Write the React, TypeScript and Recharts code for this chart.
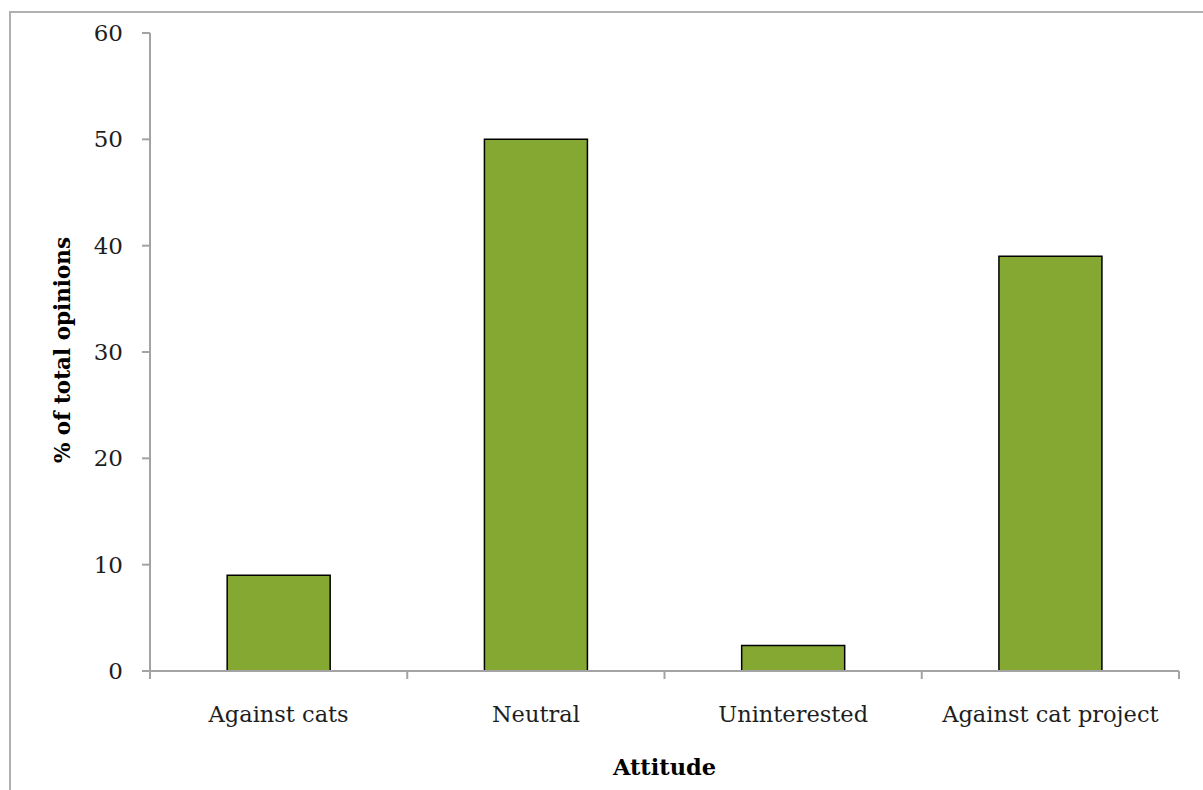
import React from 'react';
import { BarChart, Bar, XAxis, YAxis, Label } from 'recharts';

const attitudes = ['Against cats', 'Neutral', 'Uninterested', 'Against cat project'];
const percentOpinions = [9, 50, 2.4, 39];
const yTicks = [0, 10, 20, 30, 40, 50, 60];

const data = attitudes.map((attitude, i) => ({ attitude, value: percentOpinions[i] }));

const W = 1203;
const H = 790;
const MARGIN = { top: 33, right: 24, left: 0, bottom: 0 };
const Y_AXIS_W = 150;
const X_AXIS_H = 119;
const BAND = (W - Y_AXIS_W - MARGIN.right) / attitudes.length;

const FONT = '"DejaVu Serif", serif';
const AXIS_GRAY = '#a3a3a3';
const TEXT = '#1e1e1e';

// category label at the band centre, tick marks at the band edges
const CategoryTick = (props: any) => {
  const { x, y, payload, index } = props;
  const left = x - BAND / 2;
  return (
    <g>
      <line x1={left} y1={y} x2={left} y2={y + 8} stroke={AXIS_GRAY} strokeWidth={2} />
      {index === attitudes.length - 1 && (
        <line x1={left + BAND} y1={y} x2={left + BAND} y2={y + 8} stroke={AXIS_GRAY} strokeWidth={2} />
      )}
      <text x={x} y={y + 51} textAnchor="middle" fontFamily={FONT} fontSize={22.5} fill={TEXT}>
        {payload.value}
      </text>
    </g>
  );
};

const App = () => {
  return (
    <div style={{ position: 'absolute', left: 0, top: 0, width: W, height: H, background: '#fff', overflow: 'hidden' }}>
      <div
        style={{
          position: 'absolute',
          left: 9,
          top: 11,
          width: W,
          height: H,
          borderLeft: '2px solid #b0b0b0',
          borderTop: '2px solid #b0b0b0',
        }}
      />
      <BarChart
        width={W}
        height={H}
        data={data}
        margin={MARGIN}
        barCategoryGap="30%"
        style={{ position: 'absolute', left: 0, top: 0 }}
      >
        <XAxis
          dataKey="attitude"
          height={X_AXIS_H}
          tickLine={false}
          tickSize={0}
          tickMargin={0}
          axisLine={{ stroke: AXIS_GRAY, strokeWidth: 2 }}
          tick={<CategoryTick />}
          interval={0}
        >
          <Label
            content={({ viewBox }: any) => (
              <text
                x={viewBox.x + viewBox.width / 2}
                y={775}
                textAnchor="middle"
                fontFamily={FONT}
                fontWeight="bold"
                fontSize={22.5}
                fill="#000"
              >
                Attitude
              </text>
            )}
          />
        </XAxis>
        <YAxis
          width={Y_AXIS_W}
          domain={[0, 60]}
          ticks={yTicks}
          interval={0}
          tickSize={8}
          tickMargin={19}
          tickLine={{ stroke: AXIS_GRAY, strokeWidth: 2 }}
          axisLine={{ stroke: AXIS_GRAY, strokeWidth: 2 }}
          tick={{ fontFamily: FONT, fontSize: 23, fill: TEXT }}
        >
          <Label
            content={({ viewBox }: any) => {
              const cy = viewBox.y + viewBox.height / 2 - 2;
              return (
                <text
                  x={70}
                  y={cy}
                  transform={`rotate(-90 70 ${cy})`}
                  textAnchor="middle"
                  fontFamily={FONT}
                  fontWeight="bold"
                  fontSize={21.5}
                  fill="#000"
                >
                  % of total opinions
                </text>
              );
            }}
          />
        </YAxis>
        <Bar dataKey="value" fill="#84a832" stroke="#000" strokeWidth={1.5} isAnimationActive={false} />
      </BarChart>
    </div>
  );
};

export default App;
